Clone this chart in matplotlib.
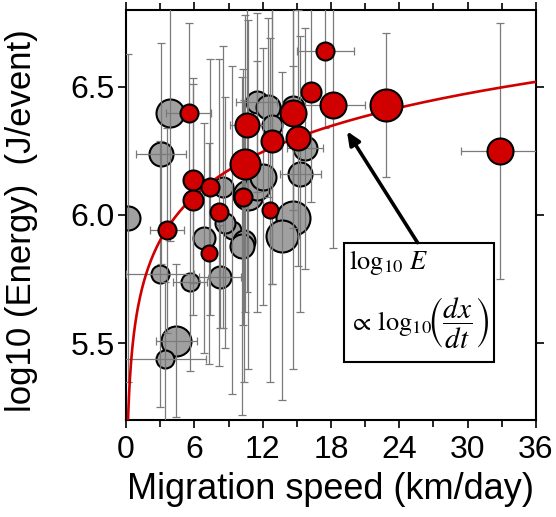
import matplotlib
matplotlib.use('Agg')
import matplotlib.pyplot as plt
import numpy as np
from matplotlib.patches import Rectangle
from matplotlib.ticker import MultipleLocator, FormatStrFormatter

plt.rcParams['font.family'] = ['Liberation Sans', 'DejaVu Sans']
plt.rcParams['mathtext.fontset'] = 'stix'

# ---- data ----
gray_x = [0.2, 3.9, 3.1, 4.4, 3.4, 3.0, 5.6, 8.25, 6.85, 9.3, 10.4, 10.2, 10.7,
          14.7, 13.7, 11.5, 12.5, 12.8, 15.3, 15.7, 8.5, 11.5, 8.7, 14.7, 12.0]
gray_y = [5.99, 6.40, 6.24, 5.51, 5.44, 5.77, 5.74, 5.76, 5.91, 5.94, 5.90, 5.88, 6.08,
          5.99, 5.92, 6.44, 6.42, 6.35, 6.16, 6.26, 6.11, 6.11, 5.97, 6.42, 6.15]
gray_xerr = [0, 0, 2.2, 1.8, 3.6, 3.0, 1.5, 1.85, 0, 0, 0, 0, 0,
             0, 0, 1.8, 0, 0, 1.8, 1.6, 0, 0, 0, 0, 0]
gray_yerr = [0.64, 0.5, 0.43, 0.3, 0.3, 0.52, 0.35, 0.2, 0.45, 0.64, 0.55, 0.66, 0.68,
             0.59, 0.64, 0.35, 0.35, 0.62, 0.54, 0.47, 0.55, 0.49, 0.49, 0.4, 0.5]
gray_r = [12, 14, 12, 15, 9, 9, 9, 11, 11, 9, 11, 12, 15,
          17, 16, 11, 12, 10, 12, 12, 10, 13, 10, 11, 13]

red_x = [5.5, 5.9, 5.9, 3.6, 7.4, 8.2, 7.3, 10.3, 12.6, 10.45, 10.6, 12.8, 15.1,
         14.7, 16.2, 18.2, 17.5, 22.8, 32.8]
red_y = [6.40, 6.135, 6.06, 5.94, 6.11, 6.01, 5.85, 6.07, 6.02, 6.20, 6.35, 6.29, 6.30,
         6.40, 6.48, 6.43, 6.64, 6.43, 6.25]
red_xerr = [2.0, 0, 0, 1.5, 0, 0, 0, 0, 0, 0, 1.5, 0, 0,
            0, 0, 2.8, 2.5, 0, 3.4]
red_yerr = [0.35, 0.4, 0.45, 0.4, 0.5, 0.6, 0.43, 0.5, 0.67, 0.58, 0.65, 0.56, 0.5,
            0.45, 0.43, 0.56, 0.3, 0.28, 0.5]
red_r = [9, 10, 10, 9, 9, 9, 8, 9, 8, 15, 12, 11, 12,
         13, 10, 13, 9, 16, 13]

fit_a = 5.628   # log10 E = a + b*log10(v)
fit_b = 0.573

xticks = [0, 6, 12, 18, 24, 30, 36]
yticks = [5.5, 6.0, 6.5]

# ---- figure ----
fig = plt.figure(figsize=(5.56, 5.17), dpi=100)
ax = fig.add_axes([126/556, 97/517, 410/556, 410/517])
ax.set_xlim(0, 36)
ax.set_ylim(5.2, 6.8)

ecol = '#7a7a7a'
ekw = dict(fmt='none', ecolor=ecol, elinewidth=0.9, capsize=3, capthick=0.9)

def bars(xs, ys, xe, ye, z):
    ax.errorbar(xs, ys, yerr=ye, zorder=z, **ekw)
    idx = [i for i, v in enumerate(xe) if v > 0]
    ax.errorbar([xs[i] for i in idx], [ys[i] for i in idx],
                xerr=[xe[i] for i in idx], zorder=z, **ekw)

# gray points
for x, y, r in zip(gray_x, gray_y, gray_r):
    ax.plot(x, y, 'o', ms=1.44*r, mfc='#a0a0a0', mec='black', mew=1.5, zorder=2)
bars(gray_x, gray_y, gray_xerr, gray_yerr, 3)
bars(red_x, red_y, red_xerr, red_yerr, 3)

# fitted curve
v = np.linspace(0.15, 36, 600)
ax.plot(v, fit_a + fit_b*np.log10(v), color='#d00000', lw=1.9, zorder=4)

# red points
for x, y, r in zip(red_x, red_y, red_r):
    ax.plot(x, y, 'o', ms=1.44*r, mfc='#d00000', mec='black', mew=1.5, zorder=5)

# annotation box and arrow
ax.add_patch(Rectangle((19.14, 5.425), 32.3-19.14, 5.892-5.425, fill=True,
                       fc='white', ec='black', lw=1.5, zorder=6))
ax.annotate('', xy=(19.4, 6.327), xytext=(25.6, 5.892),
            arrowprops=dict(arrowstyle='-|>,head_length=0.8,head_width=0.35',
                            color='black', lw=2.6, shrinkA=0, shrinkB=0), zorder=7)
ax.text(19.55, 5.815, r'$\log_{10}\,E$', fontsize=19, ha='left', va='center', zorder=7)
ax.text(19.55, 5.578, r'$\propto\,\log_{10}$', fontsize=19, ha='left', va='center', zorder=7)
ax.text(26.45, 5.578, r'$\left(\dfrac{dx}{dt}\right)$', fontsize=21, ha='left',
        va='center', zorder=7)

# axes styling
for s in ax.spines.values():
    s.set_linewidth(1.5)
ax.set_xticks(xticks)
ax.set_yticks(yticks)
ax.yaxis.set_major_formatter(FormatStrFormatter('%.1f'))
ax.xaxis.set_minor_locator(MultipleLocator(3))
ax.tick_params(which='both', direction='out', top=True, right=True, width=1.2,
               labelsize=23, pad=2)
ax.tick_params(axis='x', which='both', pad=5)
ax.tick_params(which='major', length=6)
ax.tick_params(which='minor', length=5)
ax.set_xlabel('Migration speed (km/day)', fontsize=26)
ax.set_ylabel('log10 (Energy)  (J/event)', fontsize=25)
ax.xaxis.set_label_coords(0.4976, -0.128)
ax.yaxis.set_label_coords(-0.215, 0.487)

fig.savefig('out.png', dpi=100)
